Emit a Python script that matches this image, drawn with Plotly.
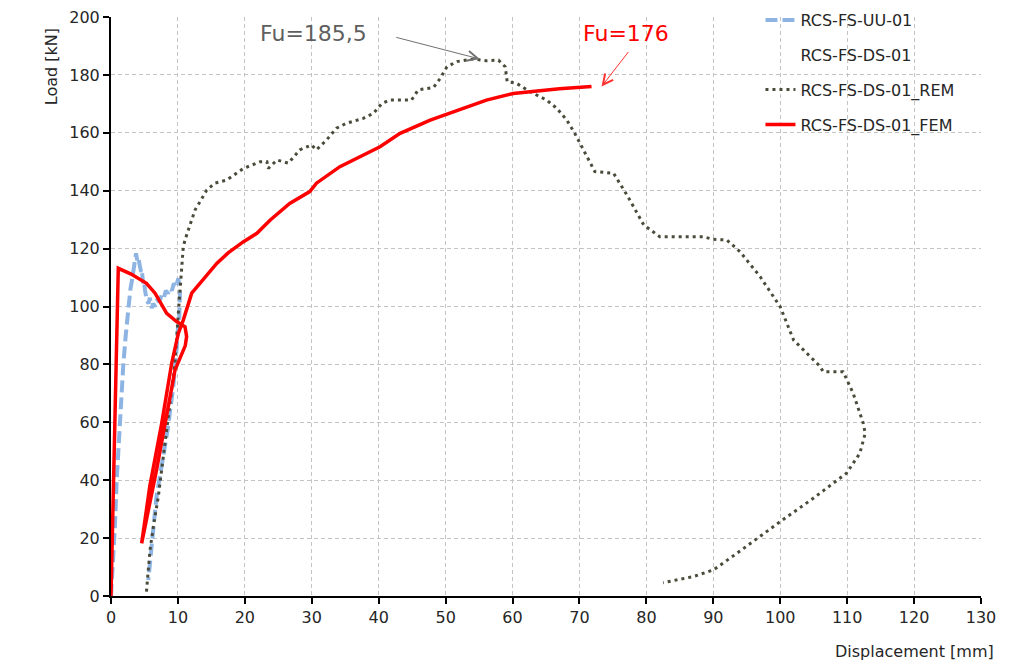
import plotly.graph_objects as go

# Load-displacement curves (displacement in mm, load in kN)
uu_disp = [0, 0.3, 0.6, 0.85, 1.2, 1.5, 1.84, 2.2, 2.6, 2.9, 3.2, 3.45, 3.6, 3.74, 3.9, 4.1,
           4.3, 4.5, 4.6, 4.8, 4.9, 5.08, 5.2, 5.33, 5.6, 5.8, 6.08, 6.3, 6.6, 6.9, 7.2, 7.57,
           7.9, 8.2, 8.5, 8.82, 9.1, 9.4, 9.7, 10.06, 10.2, 10.3, 10.2, 10.06, 9.8, 9.3, 8.5,
           7.57, 6.8, 6.4, 6.08, 5.8, 5.58]
uu_load = [0, 11, 25, 40, 55, 68, 80, 90, 100, 106, 110, 114, 117, 118.4, 116, 117,
           114, 112, 112.6, 108, 109, 105.7, 103, 102.2, 101, 103, 99.4, 101, 100, 102.5, 101.5, 104,
           103, 105.5, 104.5, 106.3, 105.5, 108, 106.8, 109.7, 107, 104.6, 96, 94.2, 85, 72.3, 58,
           45.8, 34.3, 25, 15.9, 9, 5.5]

rem_disp = [5.3, 5.5, 5.83, 6.4, 7.07, 7.7, 8.32, 8.9, 9.56, 10.06, 10.56, 10.8, 11.06, 11.4,
            11.8, 12.55, 13.3, 14.3, 15.5, 17.3, 19.8, 22.3, 23.3, 23.5, 24.8, 26.5, 28.2, 29.95,
            30.7, 32.2, 33.7, 35.2, 37.7, 39.2, 40.5, 41.7, 44.9, 45.9, 48.2, 49.2, 50.2, 51.7,
            54.1, 56.1, 57.9, 58.9, 59.2, 60.6, 62.6, 65.1, 66.6, 68.1, 69.3, 70.6, 72.3, 75.1,
            77.1, 79.6, 82.0, 88.5, 90.0, 92.0, 94.0, 97.0, 100.0, 102.0, 106.0, 106.4, 109.4,
            110.9, 112.4, 112.7, 111.9, 109.9, 107.9, 104.9, 100.0, 97.0, 93.5, 90.0, 87.0, 82.5]
rem_load = [1.5, 8, 15.9, 25, 34.3, 46, 57.3, 69, 80.4, 97.6, 111.5, 120.6, 123, 125.3,
            127.6, 133.3, 136.2, 140.2, 142.6, 143.7, 147.7, 150, 150, 147.7, 150.6, 149.5, 154.1, 155.8,
            154.1, 157.5, 161.6, 163.3, 165, 166.7, 170.2, 171.3, 171.3, 174.8, 175.7, 178.8, 182.8, 184.6,
            185.5, 184.9, 185.1, 182.8, 177.7, 177.1, 174.2, 171.3, 168.5, 164.4, 159.8, 154.1, 146.6, 146,
            138.5, 128.2, 124.1, 124.1, 123.2, 123, 118.9, 110.3, 99.9, 88.4, 79.2, 77.5, 77.5,
            70, 59.7, 56.2, 49.3, 42.4, 38.9, 33.7, 25.7, 20.5, 14.7, 9.0, 6.7, 4.6]

fem_disp = [0, 0.5, 1.09, 3.0, 5.3, 6.58, 8.32, 9.8, 11.06, 11.3, 11.1, 9.56, 6.8, 4.58,
            5.8, 7.57, 9.07, 10.06, 10.8, 12.06, 13.3, 15.8, 17.5, 19.8, 21.8, 23.8, 26.7, 29.7,
            30.7, 34.2, 40.2, 43.2, 47.7, 51.2, 56.1, 60.1, 63.1, 67.0, 71.8]
fem_load = [0, 56, 113.2, 111.2, 108, 104.6, 97.6, 94.8, 93.0, 89.6, 86.5, 78, 43.5, 18.2,
            38, 59.6, 80.4, 90.7, 95.3, 104.6, 108, 114.9, 118.5, 122.4, 125.3, 129.9, 135.6, 139.7,
            142.6, 148.3, 155.2, 159.8, 164.4, 167.3, 171.3, 173.6, 174.4, 175.2, 176]

# Peak loads
fu_test = 185.5
fu_test_disp = 55.1
fu_fem = 176
fu_fem_disp = 73.3

x_ticks = list(range(0, 131, 10))
y_ticks = list(range(0, 201, 20))

FONT = "DejaVu Sans"
TXT = "#262626"

fig = go.Figure()
fig.add_trace(go.Scatter(x=uu_disp, y=uu_load, mode="lines", name="RCS-FS-UU-01",
                         line=dict(color="#8DB4E2", width=4, dash="12px,5px"),
                         legendgroup="a"))
fig.add_trace(go.Scatter(x=[None], y=[None], mode="lines", name="RCS-FS-DS-01",
                         line=dict(color="rgba(0,0,0,0)", width=3), legendgroup="b"))
fig.add_trace(go.Scatter(x=rem_disp, y=rem_load, mode="lines", name="RCS-FS-DS-01_REM",
                         line=dict(color="#4B4B3B", width=3, dash="3px,4px"),
                         legendgroup="c"))
fig.add_trace(go.Scatter(x=fem_disp, y=fem_load, mode="lines", name="RCS-FS-DS-01_FEM",
                         line=dict(color="#FF0000", width=3.5), legendgroup="d"))

grid = dict(showgrid=True, gridcolor="#C4C4C4", gridwidth=1, griddash="4px,3px",
            zeroline=False, showline=True, linecolor="black", linewidth=2,
            ticks="outside", ticklen=6, tickwidth=2, tickcolor="black",
            tickfont=dict(family=FONT, size=16, color=TXT))

fig.update_xaxes(range=[0, 130], tickvals=x_ticks, **grid)
fig.update_yaxes(range=[0, 200], tickvals=y_ticks, **grid)

# blank area behind the legend
fig.add_shape(type="rect", xref="paper", yref="paper", x0=0.6897, x1=1.03, y0=0.782, y1=1.03,
              fillcolor="white", line=dict(width=0), layer="between")

annotations = [
    dict(text="Load [kN]", xref="paper", yref="paper", x=-0.069, y=0.915, textangle=-90,
         xanchor="center", yanchor="middle",
         showarrow=False, font=dict(family=FONT, size=16, color=TXT)),
    dict(text="Displacement [mm]", xref="paper", yref="paper", x=0.924, y=-0.095,
         xanchor="center", yanchor="middle",
         showarrow=False, font=dict(family=FONT, size=16, color=TXT)),
    dict(text=f"Fu={str(fu_test).replace('.', ',')}", x=30.2, y=194.4, showarrow=False,
         font=dict(family=FONT, size=22, color="#5F5F5F")),
    dict(text=f"Fu={fu_fem}", x=76.9, y=194.4, showarrow=False,
         font=dict(family=FONT, size=22, color="#FF0000")),
    dict(text="", x=fu_test_disp, y=fu_test, ax=-85, ay=-22, showarrow=True,
         arrowhead=5, arrowsize=2, arrowwidth=1, arrowcolor="#707070"),
    dict(text="", x=fu_fem_disp, y=fu_fem, ax=28, ay=-36, showarrow=True,
         arrowhead=5, arrowsize=2, arrowwidth=1, arrowcolor="#FF3030"),
]

fig.update_layout(
    width=1033, height=662,
    margin=dict(l=111, r=52, t=17, b=66, autoexpand=False),
    paper_bgcolor="white", plot_bgcolor="white",
    showlegend=True,
    legend=dict(x=0.7465, y=1.024, xanchor="left", yanchor="top",
                bgcolor="rgba(0,0,0,0)", tracegroupgap=11,
                font=dict(family=FONT, size=16, color=TXT)),
    annotations=annotations,
)

fig.write_html("out.html")
